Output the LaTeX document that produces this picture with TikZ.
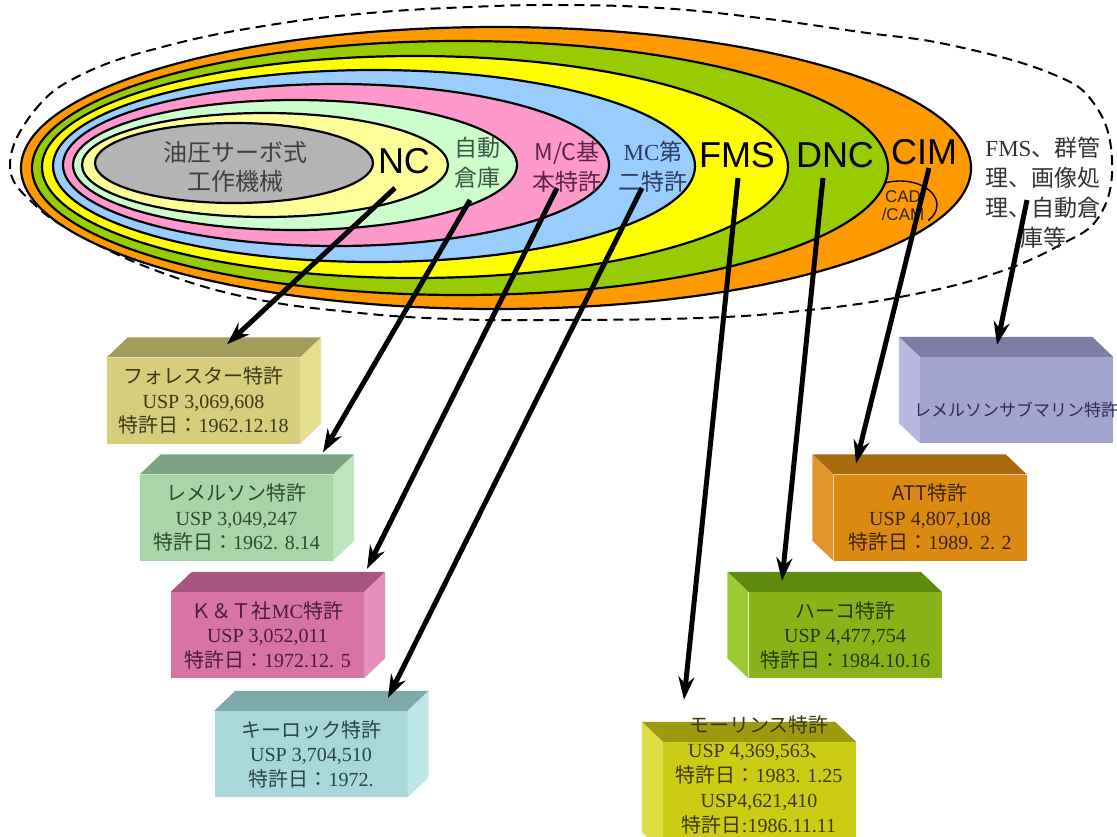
\documentclass[tikz,border=0pt]{standalone}
\usepackage{fontspec}
\setmainfont{Liberation Serif}
\setsansfont{Liberation Sans}
\newfontfamily\jpfont{Noto Sans CJK JP}
\usetikzlibrary{calc, arrows.meta}

% ring colours
\definecolor{ringorange}{HTML}{FF9900}
\definecolor{ringgreen}{HTML}{99CC00}
\definecolor{ringyellow}{HTML}{FFFF00}
\definecolor{ringblue}{HTML}{99CCFF}
\definecolor{ringpink}{HTML}{FF99CC}
\definecolor{ringmint}{HTML}{CCFFCC}
\definecolor{ringcream}{HTML}{FFFF99}
\definecolor{ringgray}{HTML}{B4B4B4}
% box colours: front, top, side, ink
\definecolor{forefront}{HTML}{D6CE7C}\definecolor{foretop}{HTML}{A39D5B}\definecolor{foreside}{HTML}{E5DE8E}\definecolor{foreink}{HTML}{3B3818}
\definecolor{lemfront}{HTML}{A9D5A9}\definecolor{lemtop}{HTML}{7DA383}\definecolor{lemside}{HTML}{BDE5BD}\definecolor{lemink}{HTML}{2D4A33}
\definecolor{ktfront}{HTML}{D873A8}\definecolor{kttop}{HTML}{A65480}\definecolor{ktside}{HTML}{E58DBB}\definecolor{ktink}{HTML}{4A1D35}
\definecolor{keyfront}{HTML}{A8D8DA}\definecolor{keytop}{HTML}{7FA8A8}\definecolor{keyside}{HTML}{BDE6E8}\definecolor{keyink}{HTML}{2B4547}
\definecolor{subfront}{HTML}{A3A3CF}\definecolor{subtop}{HTML}{7D7DA6}\definecolor{subside}{HTML}{B8B8E0}\definecolor{subink}{HTML}{2E2E4E}
\definecolor{attfront}{HTML}{DB8A12}\definecolor{atttop}{HTML}{A86A0C}\definecolor{attside}{HTML}{E0962A}\definecolor{attink}{HTML}{3A2404}
\definecolor{hakofront}{HTML}{88B41A}\definecolor{hakotop}{HTML}{5E8A0E}\definecolor{hakoside}{HTML}{9DC935}\definecolor{hakoink}{HTML}{263805}
\definecolor{morfront}{HTML}{CCCC14}\definecolor{mortop}{HTML}{9C9A0E}\definecolor{morside}{HTML}{DDDD44}\definecolor{morink}{HTML}{3A3A06}

\newcommand{\jtext}[1]{{\jpfont #1}}
% top face and side face of a patent box: node, depth dx, side (east/west), top colour, side colour
\newcommand{\boxfaces}[5]{%
  \fill [#4] (#1.north west) -- ++(#2,-20) -- ($(#1.north east)+(#2,-20)$) -- (#1.north east) -- cycle;
  \fill [#5] (#1.north #3) -- ++(#2,-20) -- ($(#1.south #3)+(#2,-20)$) -- (#1.south #3) -- cycle;
}

\tikzset{
  ring/.style={draw=black, line width=2.2pt},
  bigword/.style={font=\fontsize{36}{36}\selectfont\sffamily},
  ringword/.style={align=center, font=\fontsize{23}{30}\selectfont},
  patent/.style={align=center, inner sep=0pt, minimum width=193pt, minimum height=86pt, font=\fontsize{20}{24.5}\selectfont},
  link/.style={line width=5pt, -{Stealth[length=23pt, width=16pt]}},
}

\begin{document}
\begin{tikzpicture}[x=1pt, y=-1pt]
\useasboundingbox (0,0) rectangle (1117,836);

%the dashed outline
\draw [dash pattern=on 10pt off 6pt, line width=2pt] plot [smooth cycle, tension=0.7] coordinates {
  (10,165) (35,110) (85,73) (170,45) (270,25) (370,13) (470,7) (560,5) (660,8) (760,18) (860,32)
  (950,45) (1050,73) (1095,105) (1112,160) (1100,215) (1060,245) (990,275) (900,297) (800,311)
  (700,318) (560,320) (450,319) (350,312) (250,298) (160,272) (85,238) (35,205)};

%the rings, outside in
\filldraw [ring, fill=ringorange] (496,168) ellipse [x radius=475, y radius=141];
\draw [line width=1.4pt] (900,205) ++(210:37 and 24) arc [start angle=210, end angle=400, x radius=37, y radius=24];
\filldraw [ring, fill=ringgreen] (460,168) ellipse [x radius=428, y radius=127];
\filldraw [ring, fill=ringyellow] (415,167) ellipse [x radius=373, y radius=111];
\filldraw [ring, fill=ringblue] (374,166) ellipse [x radius=321, y radius=96];
\filldraw [ring, fill=ringpink] (336,165) ellipse [x radius=273, y radius=81];
\filldraw [ring, fill=ringmint] (295,165) ellipse [x radius=222, y radius=65];
\filldraw [ring, fill=ringcream] (265,165) ellipse [x radius=183, y radius=52];
\filldraw [ring, fill=ringgray] (234,163) ellipse [x radius=139, y radius=40];

%the ring labels
\node [ringword, text=black!75, font=\fontsize{24}{29}\selectfont] (servo) at (235,167) {\jtext{油圧サーボ式}\\\jtext{工作機械}};
\node [bigword] (nc) at (404,161) {NC};
\node [ringword, text={rgb,255:red,59;green,87;blue,72}] (jido) at (477,163) {\jtext{自動}\\\jtext{倉庫}};
\node [ringword, text={rgb,255:red,91;green,36;blue,70}] (mcbase) at (567,167) {\jtext{M/C基}\\\jtext{本特許}};
\node [ringword, text={rgb,255:red,46;green,60;blue,99}] (mcsecond) at (653,167) {MC\jtext{第}\\\jtext{二特許}};
\node [bigword] (fms) at (737,155) {FMS};
\node [bigword] (dnc) at (835,155) {DNC};
\node [bigword] (cim) at (924,152) {CIM};
\node [align=center, inner sep=0pt, font=\fontsize{17}{18}\selectfont\sffamily, text=black!85] (cadcam) at (903,206) {CAD\\/CAM};
\node [ringword, text=black!80] (others) at (1043,193) {FMS\jtext{、群管}\\\jtext{理、画像処}\\\jtext{理、自動倉}\\\jtext{庫等}};

%the patent boxes
\node [patent, fill=forefront, text=foreink] (forester) at (203.5,400.5) {\jtext{フォレスター特許}\\USP 3,069,608\\\jtext{特許日：}1962.12.18};
\boxfaces{forester}{21}{east}{foretop}{foreside}

\node [patent, fill=lemfront, text=lemink] (lemelson) at (236.5,517.5) {\jtext{レメルソン特許}\\USP 3,049,247\\\jtext{特許日：}1962. 8.14};
\boxfaces{lemelson}{21}{east}{lemtop}{lemside}

\node [patent, fill=ktfront, text=ktink] (kandt) at (267.5,635) {\jtext{Ｋ＆Ｔ社}MC\jtext{特許}\\USP 3,052,011\\\jtext{特許日：}1972.12. 5};
\boxfaces{kandt}{21}{east}{kttop}{ktside}

\node [patent, fill=keyfront, text=keyink] (keylock) at (311,754) {\jtext{キーロック特許}\\USP 3,704,510\\\jtext{特許日：}1972.};
\boxfaces{keylock}{21}{east}{keytop}{keyside}

\node [patent, fill=subfront] (submarine) at (1016.5,400) {};
\boxfaces{submarine}{-21}{west}{subtop}{subside}
\node [text=subink, font=\fontsize{17}{20}\selectfont] (submarineinfo) at (1016,410) {\jtext{レメルソンサブマリン特許}};

\node [patent, fill=attfront, text=attink] (att) at (930,517.5) {\jtext{ATT特許}\\USP 4,807,108\\\jtext{特許日：}1989. 2. 2};
\boxfaces{att}{-21}{west}{atttop}{attside}

\node [patent, fill=hakofront, text=hakoink] (hako) at (845,635) {\jtext{ハーコ特許}\\USP 4,477,754\\\jtext{特許日：}1984.10.16};
\boxfaces{hako}{-21}{west}{hakotop}{hakoside}

\node [patent, fill=morfront, minimum height=110pt] (moorins) at (759.5,797) {};
\boxfaces{moorins}{-21}{west}{mortop}{morside}
\node [align=center, text=morink, font=\fontsize{20}{25}\selectfont] (moorinsinfo) at (759,775) {\jtext{モーリンス特許}\\USP 4,369,563\jtext{、}\\\jtext{特許日：}1983. 1.25\\USP4,621,410\\\jtext{特許日}:1986.11.11};

%the arrows
\coordinate (ncfoot) at (395,188);
\coordinate (jidofoot) at (470,200);
\coordinate (mcbasefoot) at (557,188);
\coordinate (mcsecondfoot) at (642,188);
\coordinate (fmsfoot) at (738,178);
\coordinate (dncfoot) at (823,178);
\coordinate (cimfoot) at (929,168);
\coordinate (othersfoot) at (1027,200);

\draw [link] (ncfoot) -- ($(forester.north)+(23.5,-13)$);
\draw [link] (jidofoot) -- ($(lemelson.north)+(86.5,-22)$);
\draw [link] (mcbasefoot) -- ($(kandt.north)+(99.5,-23)$);
\draw [link] (mcsecondfoot) -- ($(keylock.north)+(77,-13)$);
\draw [link] (fmsfoot) -- ($(moorins.north)+(-75.5,-42)$);
\draw [link] (dncfoot) -- ($(hako.north)+(-63,-11)$);
\draw [link] (cimfoot) -- ($(att.north)+(-74,-11)$);
\draw [link] (othersfoot) -- ($(submarine.north)+(-19.5,-12)$);
\end{tikzpicture}
\end{document}
